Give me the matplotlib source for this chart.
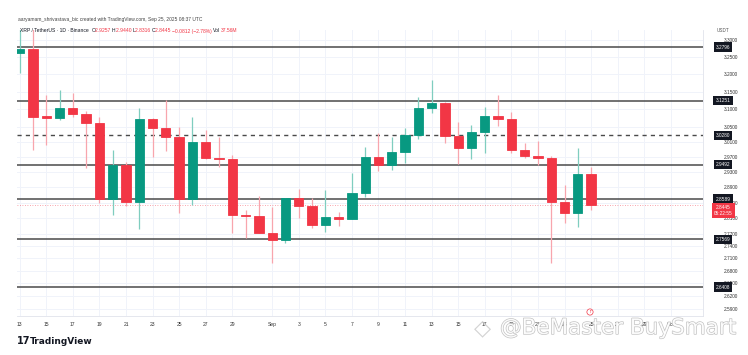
import matplotlib
matplotlib.use("Agg")
import matplotlib.pyplot as plt
import matplotlib.patheffects as pe
import matplotlib.transforms as mtransforms
from matplotlib.text import Annotation
import numpy as np

# ---------------- data ----------------
dates = ["Aug 13", "Aug 14", "Aug 15", "Aug 16", "Aug 17", "Aug 18", "Aug 19", "Aug 20",
         "Aug 21", "Aug 22", "Aug 23", "Aug 24", "Aug 25", "Aug 26", "Aug 27", "Aug 28",
         "Aug 29", "Aug 30", "Aug 31", "Sep 1", "Sep 2", "Sep 3", "Sep 4", "Sep 5",
         "Sep 6", "Sep 7", "Sep 8", "Sep 9", "Sep 10", "Sep 11", "Sep 12", "Sep 13",
         "Sep 14", "Sep 15", "Sep 16", "Sep 17", "Sep 18", "Sep 19", "Sep 20", "Sep 21",
         "Sep 22", "Sep 23", "Sep 24", "Sep 25"]
opens = [3.262, 3.274, 3.082, 3.076, 3.103, 3.086, 3.061, 2.858,
         2.948, 2.852, 3.073, 3.048, 3.025, 2.858, 3.011, 2.968,
         2.964, 2.818, 2.816, 2.774, 2.755, 2.861, 2.842, 2.793,
         2.814, 2.808, 2.875, 2.969, 2.948, 2.982, 3.030, 3.103,
         3.117, 3.027, 2.995, 3.037, 3.083, 3.073, 2.989, 2.973,
         2.968, 2.851, 2.823, 2.9257]
highs = [3.345, 3.340, 3.141, 3.155, 3.146, 3.096, 3.080, 2.989,
         2.957, 3.105, 3.075, 3.126, 3.052, 3.080, 3.043, 3.025,
         2.975, 2.831, 2.867, 2.839, 2.863, 2.884, 2.861, 2.883,
         2.827, 2.926, 2.996, 3.036, 3.023, 3.048, 3.136, 3.183,
         3.122, 3.066, 3.057, 3.108, 3.141, 3.094, 3.008, 3.013,
         2.972, 2.896, 2.995, 2.9440]
lows = [3.204, 2.989, 3.002, 3.071, 3.080, 2.940, 2.848, 2.818,
        2.842, 2.783, 2.971, 2.986, 2.823, 2.844, 2.964, 2.944,
        2.774, 2.760, 2.772, 2.698, 2.749, 2.810, 2.785, 2.776,
        2.790, 2.807, 2.865, 2.932, 2.935, 2.953, 3.018, 3.089,
        3.008, 2.951, 2.964, 2.980, 3.055, 2.980, 2.966, 2.948,
        2.698, 2.797, 2.789, 2.8316]
closes = [3.274, 3.080, 3.076, 3.105, 3.086, 3.061, 2.858, 2.948,
          2.852, 3.073, 3.048, 3.025, 2.858, 3.011, 2.967, 2.964,
          2.818, 2.815, 2.774, 2.755, 2.861, 2.842, 2.793, 2.814,
          2.808, 2.875, 2.969, 2.948, 2.982, 3.030, 3.103, 3.117,
          3.027, 2.995, 3.037, 3.083, 3.073, 2.989, 2.973, 2.968,
          2.851, 2.823, 2.9257, 2.8445]

level_lines = [3.2796, 3.1251, 2.9492, 2.8589, 2.7569, 2.6408]
level_labels = ["3.2796", "3.1251", "2.9492", "2.8589", "2.7569", "2.6408"]
dashed_level = 3.0280
dashed_label = "3.0280"
last_price = 2.8445
last_label = "2.8445\n05:22:55"

y_ticks = [3.30, 3.25, 3.20, 3.15, 3.10, 3.05, 3.01, 2.97, 2.93, 2.89, 2.85, 2.81,
           2.77, 2.74, 2.71, 2.68, 2.65, 2.62, 2.59]
x_tick_pos = [0, 2, 4, 6, 8, 10, 12, 14, 16, 19, 21, 23, 25, 27, 29, 31, 33, 35, 37,
              39, 41, 43, 45, 47, 49]
x_tick_labels = ["13", "15", "17", "19", "21", "23", "25", "27", "29", "Sep", "3", "5",
                 "7", "9", "11", "13", "15", "17", "19", "21", "23", "25", "27", "29", "Oct"]

header_parts = [("XRP / TetherUS · 1D · Binance  ", "#131722"),
                ("O", "#131722"), ("2.9257 ", "#f23645"),
                ("H", "#131722"), ("2.9440 ", "#f23645"),
                ("L", "#131722"), ("2.8316 ", "#f23645"),
                ("C", "#131722"), ("2.8445 ", "#f23645"),
                ("−0.0812 (−2.78%) ", "#f23645"),
                ("Vol", "#131722"), ("37.56M", "#f23645")]

# ---------------- figure ----------------
W, H = 748, 355
fig = plt.figure(figsize=(W / 100, H / 100), dpi=100)
fig.patch.set_facecolor("white")

L_px, R_px, T_px, B_px = 17, 703, 30, 316
ax = fig.add_axes([L_px / W, 1 - B_px / H, (R_px - L_px) / W, (B_px - T_px) / H])
ax.set_yscale("log")
ax.set_xlim(-0.2, 51.42)
ax.set_ylim(2.5726, 3.3305)

GREEN = "#089981"
RED = "#f23645"
GREEN_W = "#7fcdbf"
RED_W = "#f8a5ad"

x = np.arange(len(dates))
o = np.array(opens); c = np.array(closes); h = np.array(highs); l = np.array(lows)
up = c >= o
body_col = np.where(up, GREEN, RED)
wick_col = np.where(up, GREEN_W, RED_W)

ax.vlines(x, l, h, colors=wick_col, linewidth=0.9, zorder=3)
ax.bar(x, np.abs(c - o), bottom=np.minimum(o, c), width=0.7, color=body_col,
       edgecolor=body_col, linewidth=0.6, zorder=4)

# grid / ticks
ax.minorticks_off()
ax.set_yticks(y_ticks)
ax.set_yticklabels([f"{v:.4f}" for v in y_ticks])
ax.set_xticks(x_tick_pos)
ax.set_xticklabels(x_tick_labels)
ax.grid(True, color="#f0f3fa", linewidth=0.7, zorder=0)
ax.yaxis.tick_right()
ax.tick_params(axis="y", length=0, pad=20, labelsize=3.4, labelcolor="#333333")
for lbl in ax.get_yticklabels():
    lbl.set_ha("center")
    lbl.set_fontfamily("Liberation Sans")
ax.tick_params(axis="x", length=0, pad=4, labelsize=3.6, labelcolor="#333333")
for lbl in ax.get_xticklabels():
    lbl.set_fontfamily("Liberation Sans")
for s in ["top", "left"]:
    ax.spines[s].set_visible(False)
for s in ["right", "bottom"]:
    ax.spines[s].set_color("#e0e3eb")
    ax.spines[s].set_linewidth(0.6)

# horizontal levels
for lv in level_lines:
    ax.axhline(lv, color="#4a4a4a", linewidth=1.1, zorder=2)
ax.axhline(dashed_level, color="#4a4a4a", linewidth=1.0, linestyle=(0, (3, 3)), zorder=2)
ax.axhline(last_price, color=RED, linewidth=0.6, linestyle=(0, (1, 2)), alpha=0.6, zorder=2)

# right-axis labels
trans = mtransforms.blended_transform_factory(ax.transAxes, ax.transData)
xc = (723 - L_px) / (R_px - L_px)
for lv, lab in zip(level_lines + [dashed_level], level_labels + [dashed_label]):
    ax.text(xc, lv, lab, transform=trans, ha="center", va="center", fontsize=3.4,
            color="white", family="Liberation Sans", clip_on=False, zorder=10,
            bbox=dict(boxstyle="square,pad=0.45", fc="#131722", ec="none"))
ax.text(xc, last_price, last_label, transform=trans, ha="center", va="top", fontsize=3.4,
        color="white", family="Liberation Sans", clip_on=False, zorder=10,
        linespacing=1.3, bbox=dict(boxstyle="square,pad=0.45", fc=RED, ec="none"))
fig.text(723 / W, 1 - 31 / H, "USDT", ha="center", va="center", fontsize=3.3,
         color="#555555", family="Liberation Sans")

# header
fig.text(18 / W, 1 - 20 / H,
         "aaryamam_shrivastava_bic created with TradingView.com, Sep 25, 2025 08:37 UTC",
         ha="left", va="center", fontsize=3.5, color="#444444", family="Liberation Sans")
chain = fig.text(20 / W, 1 - 31 / H, header_parts[0][0], ha="left", va="center",
                 fontsize=3.6, color=header_parts[0][1], family="Liberation Sans")
for txt, col in header_parts[1:]:
    chain = fig.add_artist(Annotation(
        txt, xy=(1, 0.5), xycoords=chain, ha="left", va="center", fontsize=3.6,
        color=col, family="Liberation Sans", annotation_clip=False))

# event marker
fig.text(590 / W, 1 - 312 / H, "↑", ha="center", va="center", fontsize=3.2, color=RED,
         bbox=dict(boxstyle="circle,pad=0.25", fc="white", ec=RED, lw=0.5))

# TradingView logo
fig.text(17 / W, 1 - 341 / H, "17", ha="left", va="center", fontsize=7, weight="heavy",
         color="#131722", family="DejaVu Sans")
fig.text(30 / W, 1 - 341 / H, "TradingView", ha="left", va="center", fontsize=6.5,
         weight="bold", color="#131722", family="DejaVu Sans")

# watermark
wm_fx = [pe.withStroke(linewidth=0.9, foreground="#b8b8b8")]
fig.text(483 / W, 1 - 328 / H, "◇", ha="center", va="center", fontsize=16,
         color="#c8c8c8", alpha=0.8)
fig.text(500 / W, 1 - 328 / H, "@BeMaster BuySmart", ha="left", va="center",
         fontsize=15.5, color="white", family="DejaVu Sans", path_effects=wm_fx,
         alpha=0.9, zorder=20)

fig.savefig("out.png", dpi=100, facecolor="white")
